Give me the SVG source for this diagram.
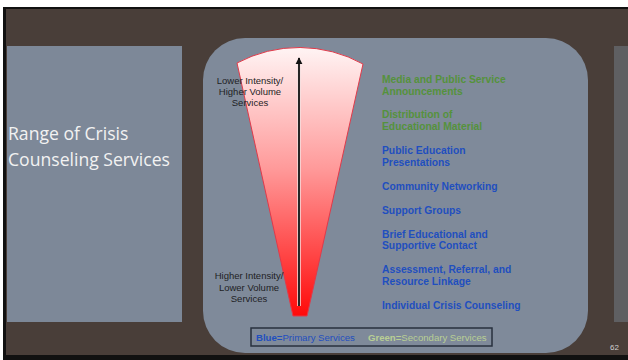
<svg xmlns="http://www.w3.org/2000/svg" width="628" height="360" viewBox="0 0 628 360">
<defs>
<linearGradient id="fan" x1="0" y1="0" x2="0" y2="1">
<stop offset="0" stop-color="#fff4f4"/>
<stop offset="0.45" stop-color="#ff9a9a"/>
<stop offset="1" stop-color="#ff0a0a"/>
</linearGradient>
<marker id="ah" viewBox="0 0 10 10" refX="9" refY="5" markerWidth="4" markerHeight="4" orient="auto">
<path d="M0,0 L10,5 L0,10 z" fill="#111"/>
</marker>
<style>
.lbl{font-family:"Liberation Sans",Arial,sans-serif;font-size:9.5px;fill:#1e1e24;text-anchor:middle}
.it{font-family:"Liberation Sans",Arial,sans-serif;font-size:10.3px;font-weight:bold}
.g{fill:#55923c}
.b{fill:#1f4fbf}
.leg{font-family:"Liberation Sans",Arial,sans-serif;font-size:9.6px}
</style>
</defs>
<rect width="628" height="360" fill="#ffffff"/>
<rect x="3" y="7" width="625" height="353" fill="#111"/>
<rect x="6" y="9" width="622" height="346" fill="#493e39"/>
<g id="title">
<rect x="7" y="46" width="175" height="276" fill="#7d8898"/>
<text x="8" y="140" font-family="'Open Sans','Liberation Sans',sans-serif" font-size="17.6" fill="#f2f2f2">Range of Crisis</text>
<text x="8" y="166" font-family="'Open Sans','Liberation Sans',sans-serif" font-size="17.6" fill="#f2f2f2">Counseling Services</text>
</g>
<rect x="614" y="46" width="14" height="276" fill="#5f5f62"/>
<g id="panel">
<rect x="203" y="38" width="385" height="315" rx="42" ry="42" fill="#7f8a9a"/>
</g>
<g id="fan-node">
<path d="M237,63 A132,132 0 0 1 363,64 L307,316 L293,316 Z" fill="url(#fan)" stroke="#e03a4a" stroke-width="1"/>
</g>
<g id="connectors">
<line x1="299" y1="306" x2="299" y2="60" stroke="#f4e0e0" stroke-width="3.5"/>
<line x1="299" y1="306" x2="299" y2="58" stroke="#111" stroke-width="1.8" marker-end="url(#ah)"/>
</g>
<g id="top-label">
<text class="lbl" x="250" y="84">Lower Intensity/</text>
<text class="lbl" x="250" y="95">Higher Volume</text>
<text class="lbl" x="250" y="106">Services</text>
</g>
<g id="bottom-label">
<text class="lbl" x="249" y="279">Higher Intensity/</text>
<text class="lbl" x="249" y="291">Lower Volume</text>
<text class="lbl" x="249" y="302">Services</text>
</g>
<g id="items">
<text class="it g" x="382" y="83">Media and Public Service</text>
<text class="it g" x="382" y="95">Announcements</text>
<text class="it g" x="382" y="118">Distribution of</text>
<text class="it g" x="382" y="130">Educational Material</text>
<text class="it b" x="382" y="154">Public Education</text>
<text class="it b" x="382" y="166">Presentations</text>
<text class="it b" x="382" y="190">Community Networking</text>
<text class="it b" x="382" y="214">Support Groups</text>
<text class="it b" x="382" y="238">Brief Educational and</text>
<text class="it b" x="382" y="249">Supportive Contact</text>
<text class="it b" x="382" y="273">Assessment, Referral, and</text>
<text class="it b" x="382" y="285">Resource Linkage</text>
<text class="it b" x="382" y="309">Individual Crisis Counseling</text>
</g>
<g id="legend">
<rect x="251" y="328" width="241" height="18" fill="#7f8a9a" stroke="#28303e" stroke-width="1.5"/>
<text class="leg" x="256" y="341"><tspan font-weight="bold" fill="#1f4fbf">Blue=</tspan><tspan fill="#1f4fbf">Primary Services</tspan></text>
<text class="leg" x="368" y="341"><tspan font-weight="bold" fill="#b9cf94">Green=</tspan><tspan fill="#b9cf94">Secondary Services</tspan></text>
</g>
<text x="610" y="350" font-family="'Liberation Sans',sans-serif" font-size="8" fill="#d0d0d0">62</text>
</svg>
